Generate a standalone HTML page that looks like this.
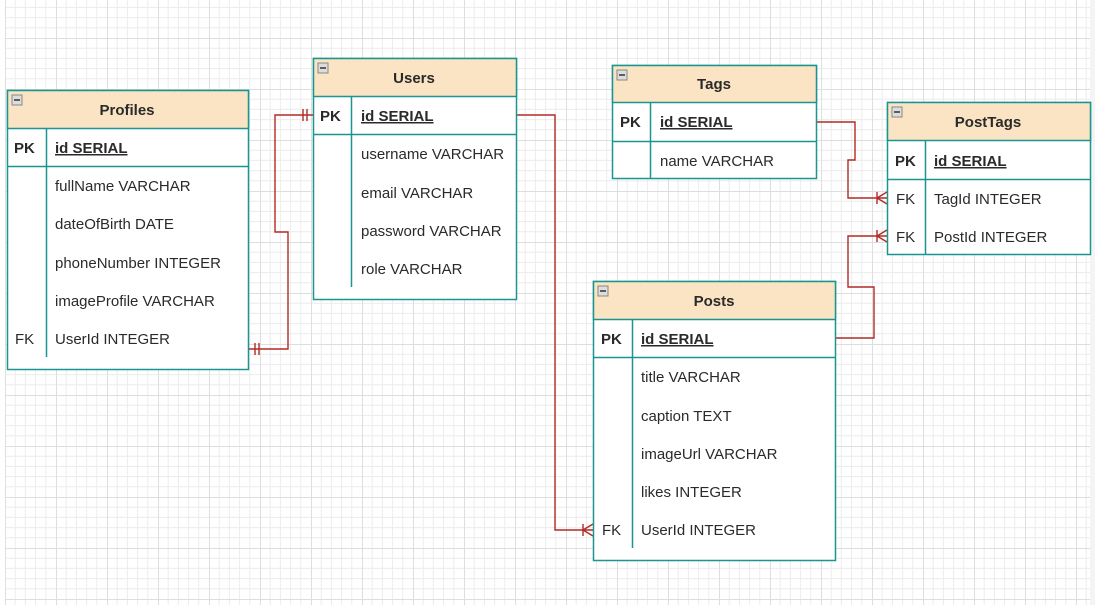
<!DOCTYPE html>
<html><head><meta charset="utf-8"><style>
html,body{margin:0;padding:0;background:#fff;}
svg{display:block;font-family:"Liberation Sans",Arial,sans-serif;}
</style></head><body>
<svg width="1095" height="605" viewBox="0 0 1095 605" xmlns="http://www.w3.org/2000/svg">
<defs>
<pattern id="g" x="5" y="38" width="51" height="51" patternUnits="userSpaceOnUse">
<path d="M10.2 0V51M20.4 0V51M30.6 0V51M40.8 0V51M0 10.2H51M0 20.4H51M0 30.6H51M0 40.8H51" stroke="#ececec" stroke-width="1" fill="none"/>
<path d="M0.5 0V51M0 0.5H51" stroke="#dedede" stroke-width="1" fill="none"/>
</pattern>
</defs>
<rect x="0" y="0" width="1095" height="605" fill="#fff"/>
<rect x="5" y="0" width="1085" height="605" fill="url(#g)"/>
<rect x="1090" y="0" width="5" height="605" fill="#f4f4f4"/>

<g fill="none" stroke="#b22a25" stroke-width="1.4">
<path d="M516 115H555V530H593"/>
<path d="M583 530L593 524M583 530L593 536M583 524V536"/>
<path d="M249 349H288V232H275V115H313"/>
<path d="M255 343V355M259 343V355M303 109V121M307 109V121"/>
<path d="M816 122H855V160H848V198H887"/>
<path d="M877 198L887 192M877 198L887 204M877 192V204"/>
<path d="M835 338H874V287H848V236H887"/>
<path d="M877 236L887 230M877 236L887 242M877 230V242"/>
</g>

<g font-size="15" fill="#2a2a2a">
<!-- Profiles -->
<rect x="7.5" y="90.5" width="241" height="279" fill="#fff" stroke="#1a958f" stroke-width="1.5"/>
<rect x="7.5" y="90.5" width="241" height="38" fill="#fae4c4" stroke="#1a958f" stroke-width="1.5"/>
<line x1="7" y1="166.5" x2="249" y2="166.5" stroke="#1a958f" stroke-width="1.5"/>
<line x1="46.5" y1="128" x2="46.5" y2="357" stroke="#1a958f" stroke-width="1.5"/>
<rect x="12" y="95" width="10" height="10" fill="#ddd" stroke="#888"/><line x1="14" y1="100" x2="20" y2="100" stroke="#333" stroke-width="1.5"/>
<text x="127" y="115" font-weight="bold" text-anchor="middle">Profiles</text>
<text x="14" y="153" font-weight="bold">PK</text>
<text x="55" y="153" font-weight="bold" text-decoration="underline">id SERIAL</text>
<text x="55" y="191">fullName VARCHAR</text>
<text x="55" y="229">dateOfBirth DATE</text>
<text x="55" y="268">phoneNumber INTEGER</text>
<text x="55" y="306">imageProfile VARCHAR</text>
<text x="15" y="344">FK</text>
<text x="55" y="344">UserId INTEGER</text>

<!-- Users -->
<rect x="313.5" y="58.5" width="203" height="241" fill="#fff" stroke="#1a958f" stroke-width="1.5"/>
<rect x="313.5" y="58.5" width="203" height="38" fill="#fae4c4" stroke="#1a958f" stroke-width="1.5"/>
<line x1="313" y1="134.5" x2="516" y2="134.5" stroke="#1a958f" stroke-width="1.5"/>
<line x1="351.5" y1="96" x2="351.5" y2="287" stroke="#1a958f" stroke-width="1.5"/>
<rect x="318" y="63" width="10" height="10" fill="#ddd" stroke="#888"/><line x1="320" y1="68" x2="326" y2="68" stroke="#333" stroke-width="1.5"/>
<text x="414" y="83" font-weight="bold" text-anchor="middle">Users</text>
<text x="320" y="121" font-weight="bold">PK</text>
<text x="361" y="121" font-weight="bold" text-decoration="underline">id SERIAL</text>
<text x="361" y="159">username VARCHAR</text>
<text x="361" y="198">email VARCHAR</text>
<text x="361" y="236">password VARCHAR</text>
<text x="361" y="274">role VARCHAR</text>

<!-- Tags -->
<rect x="612.5" y="65.5" width="204" height="113" fill="#fff" stroke="#1a958f" stroke-width="1.5"/>
<rect x="612.5" y="65.5" width="204" height="37" fill="#fae4c4" stroke="#1a958f" stroke-width="1.5"/>
<line x1="612" y1="141.5" x2="816" y2="141.5" stroke="#1a958f" stroke-width="1.5"/>
<line x1="650.5" y1="102" x2="650.5" y2="179" stroke="#1a958f" stroke-width="1.5"/>
<rect x="617" y="70" width="10" height="10" fill="#ddd" stroke="#888"/><line x1="619" y1="75" x2="625" y2="75" stroke="#333" stroke-width="1.5"/>
<text x="714" y="89" font-weight="bold" text-anchor="middle">Tags</text>
<text x="620" y="127" font-weight="bold">PK</text>
<text x="660" y="127" font-weight="bold" text-decoration="underline">id SERIAL</text>
<text x="660" y="166">name VARCHAR</text>

<!-- PostTags -->
<rect x="887.5" y="102.5" width="203" height="152" fill="#fff" stroke="#1a958f" stroke-width="1.5"/>
<rect x="887.5" y="102.5" width="203" height="38" fill="#fae4c4" stroke="#1a958f" stroke-width="1.5"/>
<line x1="887" y1="179.5" x2="1090" y2="179.5" stroke="#1a958f" stroke-width="1.5"/>
<line x1="925.5" y1="140" x2="925.5" y2="255" stroke="#1a958f" stroke-width="1.5"/>
<rect x="892" y="107" width="10" height="10" fill="#ddd" stroke="#888"/><line x1="894" y1="112" x2="900" y2="112" stroke="#333" stroke-width="1.5"/>
<text x="988" y="127" font-weight="bold" text-anchor="middle">PostTags</text>
<text x="895" y="166" font-weight="bold">PK</text>
<text x="934" y="166" font-weight="bold" text-decoration="underline">id SERIAL</text>
<text x="896" y="204">FK</text>
<text x="934" y="204">TagId INTEGER</text>
<text x="896" y="242">FK</text>
<text x="934" y="242">PostId INTEGER</text>

<!-- Posts -->
<rect x="593.5" y="281.5" width="242" height="279" fill="#fff" stroke="#1a958f" stroke-width="1.5"/>
<rect x="593.5" y="281.5" width="242" height="38" fill="#fae4c4" stroke="#1a958f" stroke-width="1.5"/>
<line x1="593" y1="357.5" x2="835" y2="357.5" stroke="#1a958f" stroke-width="1.5"/>
<line x1="632.5" y1="319" x2="632.5" y2="548" stroke="#1a958f" stroke-width="1.5"/>
<rect x="598" y="286" width="10" height="10" fill="#ddd" stroke="#888"/><line x1="600" y1="291" x2="606" y2="291" stroke="#333" stroke-width="1.5"/>
<text x="714" y="306" font-weight="bold" text-anchor="middle">Posts</text>
<text x="601" y="344" font-weight="bold">PK</text>
<text x="641" y="344" font-weight="bold" text-decoration="underline">id SERIAL</text>
<text x="641" y="382">title VARCHAR</text>
<text x="641" y="421">caption TEXT</text>
<text x="641" y="459">imageUrl VARCHAR</text>
<text x="641" y="497">likes INTEGER</text>
<text x="602" y="535">FK</text>
<text x="641" y="535">UserId INTEGER</text>
</g>
</svg>
</body></html>
